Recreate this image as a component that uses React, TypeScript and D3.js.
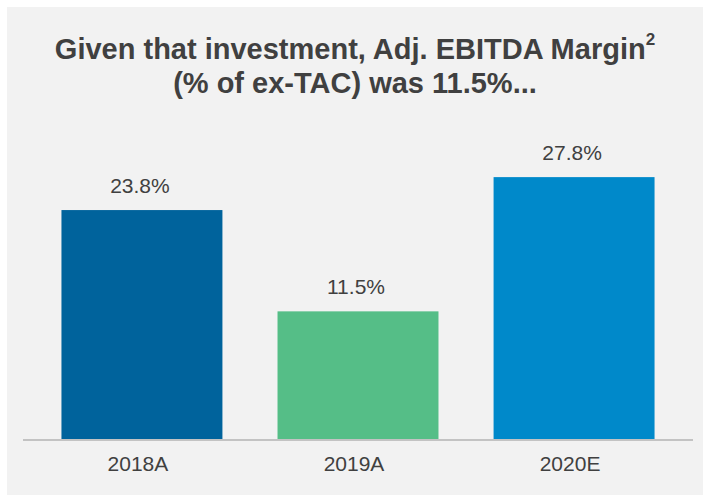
import React from "react";
import * as d3 from "d3";

const categories = ["2018A", "2019A", "2020E"];
const values = [23.8, 11.5, 27.8];
const valueLabels = ["23.8%", "11.5%", "27.8%"];
const barColors = ["#00639c", "#55be87", "#0089ca"];
const titleLine1 = "Given that investment, Adj. EBITDA Margin";
const titleSup = "2";
const titleLine2 = "(% of ex-TAC) was 11.5%...";

const W = 703;
const H = 495;
const FONT = "'Liberation Sans', Arial, sans-serif";
const TEXT = "#404040";

export default function App() {
  const x = d3.scaleBand<string>().domain(categories).range([23, 693]).paddingInner(0.255).paddingOuter(0.178);
  const y = d3.scaleLinear().domain([-4, 30]).range([439, 159]);
  const base = y.range()[0];
  const cx = 355;
  return (
    <svg width={W} height={H} style={{ position: "absolute", left: 0, top: 0 }} fontFamily={FONT}>
      <rect x={0} y={0} width={W} height={H} fill="#ffffff" />
      <rect x={7} y={7} width={W - 7} height={H - 7} fill="#f2f2f2" />
      <text x={cx} y={59} textAnchor="middle" fontSize={29} fontWeight="bold" fill={TEXT}>
        <tspan>{titleLine1}</tspan>
        <tspan fontSize={17} dy={-14}>{titleSup}</tspan>
      </text>
      <text x={cx} y={93} textAnchor="middle" fontSize={29} fontWeight="bold" fill={TEXT}>
        {titleLine2}
      </text>
      {categories.map((c, i) => {
        const mid = (x(c) as number) + x.bandwidth() / 2;
        return (
          <g key={c}>
            <rect x={x(c)} y={y(values[i])} width={x.bandwidth()} height={base - y(values[i])} fill={barColors[i]} />
            <text x={mid - 2} y={y(values[i]) - 17} textAnchor="middle" fontSize={21} fill={TEXT}>
              {valueLabels[i]}
            </text>
            <text x={mid - 4} y={471} textAnchor="middle" fontSize={21} fill={TEXT}>
              {c}
            </text>
          </g>
        );
      })}
      <line x1={23} x2={693} y1={440} y2={440} stroke="#c3c3c3" strokeWidth={2} />
    </svg>
  );
}
